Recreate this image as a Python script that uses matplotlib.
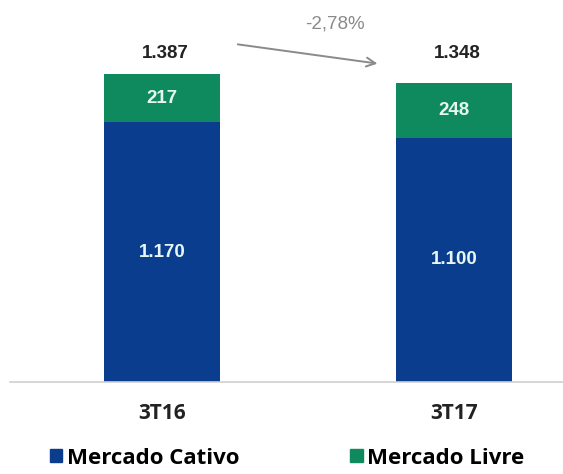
import matplotlib
matplotlib.use("Agg")
import matplotlib.pyplot as plt
from matplotlib.patches import Patch

categories = ["3T16", "3T17"]
cativo = [1170, 1100]
livre = [217, 248]
totals = [1387, 1348]
cativo_labels = ["1.170", "1.100"]
livre_labels = ["217", "248"]
total_labels = ["1.387", "1.348"]
change_label = "-2,78%"

blue = "#0b3d8f"
green = "#0e8a5e"

W, H = 563, 474
fig = plt.figure(figsize=(W/100, H/100), dpi=100)
ax = fig.add_axes([10/W, 92/H, 553/W, 382/H])
ax.set_xlim(-0.5205, 1.373)
ax.set_ylim(0, 1720)

x = [0, 1]
bw = 0.397
ax.bar(x, cativo, width=bw, color=blue, zorder=2)
ax.bar(x, livre, width=bw, bottom=cativo, color=green, zorder=2)

font = "Liberation Sans"
for i in range(2):
    ax.text(x[i], cativo[i]/2, cativo_labels[i], ha="center", va="center",
            color="#e6f7f2", fontsize=13.5, fontweight="bold", family=font)
    ax.text(x[i], cativo[i] + livre[i]/2, livre_labels[i], ha="center", va="center",
            color="#e6f7f2", fontsize=13.5, fontweight="bold", family=font)
    ax.text(x[i] + 0.01, 1478, total_labels[i], ha="center", va="center",
            color="#222222", fontsize=13.5, fontweight="bold", family=font)

ax.annotate("", xy=(0.747, 1432), xytext=(0.25, 1522),
            arrowprops=dict(arrowstyle="->", color="#8a8a8a", lw=1.4, mutation_scale=16))
ax.text(0.592, 1612, change_label, ha="center", va="center", color="#8a8a8a",
        fontsize=13.5, family=font)

for s in ["top", "right", "left"]:
    ax.spines[s].set_visible(False)
ax.spines["bottom"].set_color("#d0d0d0")
ax.spines["bottom"].set_linewidth(1.2)
ax.set_yticks([])
ax.set_xticks(x)
ax.set_xticklabels(categories, fontsize=15, fontweight="bold", family="Open Sans", color="#222222")
ax.tick_params(axis="x", length=0, pad=15)

handles = [Patch(color=blue, label="Mercado Cativo"), Patch(color=green, label="Mercado Livre")]
fig.legend(handles=handles, loc="center left", bbox_to_anchor=(50/W, 16/H), ncol=2, frameon=False,
           prop={"family": "Open Sans", "weight": "bold", "size": 16},
           handlelength=0.55, handleheight=0.55, handletextpad=0.2, columnspacing=5.0,
           borderpad=0, borderaxespad=0)

fig.savefig("out.png", dpi=100)
